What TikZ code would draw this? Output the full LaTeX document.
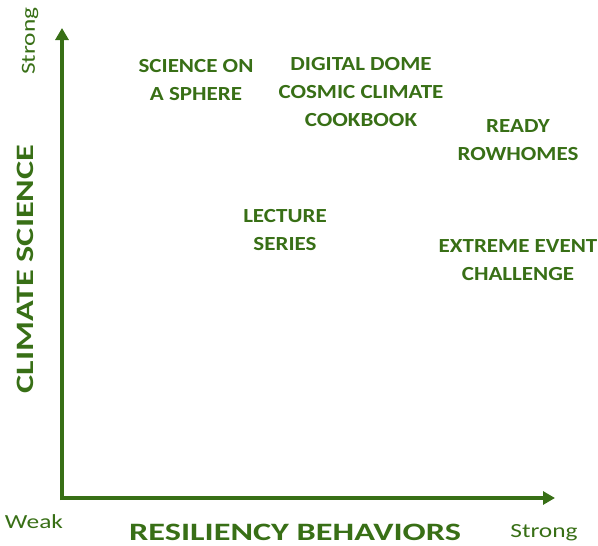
\documentclass[tikz,border=0pt]{standalone}
\usepackage{fontspec}
\setmainfont{Carlito}
\newfontfamily\lblfont[FakeStretch=1.15]{Carlito}
\newfontfamily\axfont[FakeStretch=1.37]{Carlito}
\newfontfamily\endfont[FakeStretch=1.27]{Carlito}
\usetikzlibrary{arrows.meta}
\definecolor{dkgreen}{RGB}{56,111,22}
\begin{document}
\begin{tikzpicture}[x=1pt,y=-1pt,
  lbl/.style={text=dkgreen,font=\lblfont\bfseries\fontsize{20}{28}\selectfont,align=center,inner sep=0pt},
  axlbl/.style={text=dkgreen,font=\axfont\bfseries\fontsize{25}{30}\selectfont,inner sep=0pt},
  endlbl/.style={text=dkgreen,font=\endfont\fontsize{20}{24}\selectfont,inner sep=0pt},
  axis/.style={draw=dkgreen,line width=4pt,-{Triangle[length=12pt,width=13pt]}}]
\useasboundingbox (0,0) rectangle (598,546);
\coordinate (o) at (62,498);
\coordinate (ytop) at (62,28);
\coordinate (xend) at (555,498);
\draw[axis] ([yshift=-2pt]o) -- (ytop);
\draw[axis] ([xshift=-2pt]o) -- (xend);
\node[endlbl,rotate=90] (ys) at (30,41) {Strong};
\node[endlbl] (xw) at (34,522) {Weak};
\node[endlbl] (xs) at (544,533) {Strong};
\node[axlbl,rotate=90] (yl) at (25,269) {CLIMATE SCIENCE};
\node[axlbl] (xl) at (295,532) {RESILIENCY BEHAVIORS};
\node[lbl] (sos) at (196,80) {SCIENCE ON\\A SPHERE};
\node[lbl] (dd) at (361,92) {DIGITAL DOME\\COSMIC CLIMATE\\COOKBOOK};
\node[lbl] (rr) at (518,140) {READY\\ROWHOMES};
\node[lbl] (ls) at (285,230) {LECTURE\\SERIES};
\node[lbl] (ee) at (518,260) {EXTREME EVENT\\CHALLENGE};
\end{tikzpicture}
\end{document}
